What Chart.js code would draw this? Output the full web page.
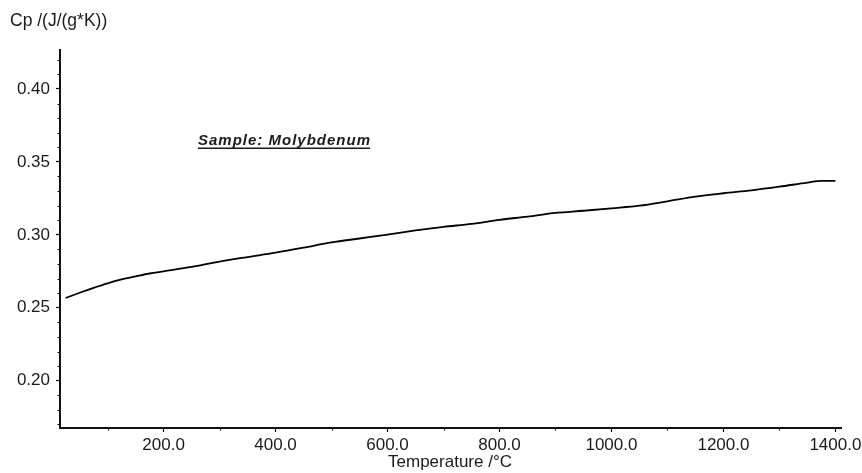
<!DOCTYPE html>
<html>
<head>
<meta charset="utf-8">
<script src="https://cdn.jsdelivr.net/npm/chart.js@4/dist/chart.umd.min.js"></script>
<style>
  html, body { margin: 0; padding: 0; background: #fff; }
  canvas { display: block; }
</style>
</head>
<body>
<canvas id="cpChart" width="862" height="473"></canvas>
<script>
// Temperature (°C) and specific heat Cp (J/(g*K))
const temperatures = [25, 50, 75, 100, 125, 150, 175, 200, 250, 300, 350, 400, 450, 500, 550, 600, 650, 700, 750, 800, 850, 900, 950, 1000, 1050, 1100, 1150, 1200, 1250, 1300, 1350, 1375, 1400];
const cpValues = [0.2567, 0.2603, 0.2637, 0.2668, 0.2694, 0.2715, 0.2735, 0.2750, 0.2780, 0.2817, 0.2848, 0.2878, 0.2912, 0.2948, 0.2975, 0.3002, 0.3030, 0.3055, 0.3075, 0.3103, 0.3125, 0.3150, 0.3165, 0.3182, 0.3200, 0.3230, 0.3262, 0.3285, 0.3305, 0.3330, 0.3358, 0.3370, 0.3370];

const xTicks = [200, 400, 600, 800, 1000, 1200, 1400];
const xMinorTicks = [100, 300, 500, 700, 900, 1100, 1300];
const yTicks = [0.20, 0.25, 0.30, 0.35, 0.40];
const yMinorTicks = [0.17, 0.18, 0.19, 0.21, 0.22, 0.23, 0.24, 0.26, 0.27, 0.28, 0.29, 0.31, 0.32, 0.33, 0.34, 0.36, 0.37, 0.38, 0.39, 0.41, 0.42];

const FONT = "'Liberation Sans', Arial, sans-serif";

// extra texts + minor ticks
const overlay = {
  id: 'overlay',
  afterDraw(chart) {
    const { ctx, scales: { x, y } } = chart;
    ctx.save();
    ctx.strokeStyle = '#000';
    ctx.lineWidth = 1;
    yMinorTicks.forEach(v => {
      const py = Math.round(y.getPixelForValue(v)) + 0.5;
      ctx.beginPath();
      ctx.moveTo(y.right - 2.5, py);
      ctx.lineTo(y.right, py);
      ctx.stroke();
    });
    xMinorTicks.forEach(v => {
      const px = Math.round(x.getPixelForValue(v)) + 0.5;
      ctx.beginPath();
      ctx.moveTo(px, x.top);
      ctx.lineTo(px, x.top + 2.5);
      ctx.stroke();
    });

    ctx.fillStyle = '#1a1a1a';
    ctx.font = '17.5px ' + FONT;
    ctx.textBaseline = 'alphabetic';
    ctx.textAlign = 'left';
    ctx.fillText('Cp /(J/(g*K))', 10, 26);

    ctx.font = '17px ' + FONT;
    ctx.textAlign = 'center';
    ctx.fillText('Temperature /°C', 450, 467);

    // sample annotation
    ctx.textAlign = 'left';
    ctx.font = 'italic bold 15px ' + FONT;
    ctx.letterSpacing = '1px';
    const label = 'Sample: Molybdenum';
    ctx.fillText(label, 198, 145);
    const w = ctx.measureText(label).width;
    ctx.fillRect(198, 147.5, w - 1, 1.5);
    ctx.restore();
  }
};

new Chart(document.getElementById('cpChart').getContext('2d'), {
  type: 'line',
  data: {
    datasets: [{
      label: 'Cp',
      data: temperatures.map((t, i) => ({ x: t, y: cpValues[i] })),
      borderColor: '#000',
      borderWidth: 1.8,
      pointRadius: 0,
      fill: false,
      cubicInterpolationMode: 'monotone'
    }]
  },
  options: {
    responsive: false,
    animation: false,
    layout: { padding: { top: 50, right: 21, left: 0, bottom: 0 } },
    plugins: {
      legend: { display: false },
      tooltip: { enabled: false }
    },
    scales: {
      x: {
        type: 'linear',
        min: 15,
        max: 1410,
        afterBuildTicks: (axis) => { axis.ticks = xTicks.map(v => ({ value: v })) },
        afterFit: (axis) => { axis.height = 45; axis.paddingLeft = 0; axis.paddingRight = 0 },
        border: { display: true, color: '#111', width: 2 },
        grid: { drawOnChartArea: false, drawTicks: true, tickLength: 4, tickColor: '#000', tickWidth: 1.2 },
        ticks: {
          autoSkip: false,
          maxRotation: 0,
          padding: 3,
          color: '#1a1a1a',
          font: { family: FONT, size: 17 },
          callback: (v) => Number(v).toFixed(1)
        }
      },
      y: {
        min: 0.1676,
        max: 0.4267,
        afterBuildTicks: (axis) => { axis.ticks = yTicks.map(v => ({ value: v })) },
        afterFit: (axis) => { axis.width = 60; axis.paddingTop = 0; axis.paddingBottom = 0 },
        border: { display: true, color: '#111', width: 2 },
        grid: { drawOnChartArea: false, drawTicks: true, tickLength: 4, tickColor: '#000', tickWidth: 1.2 },
        ticks: {
          autoSkip: false,
          padding: 6,
          color: '#1a1a1a',
          font: { family: FONT, size: 17 },
          callback: (v) => Number(v).toFixed(2)
        }
      }
    }
  },
  plugins: [overlay]
});
</script>
</body>
</html>
